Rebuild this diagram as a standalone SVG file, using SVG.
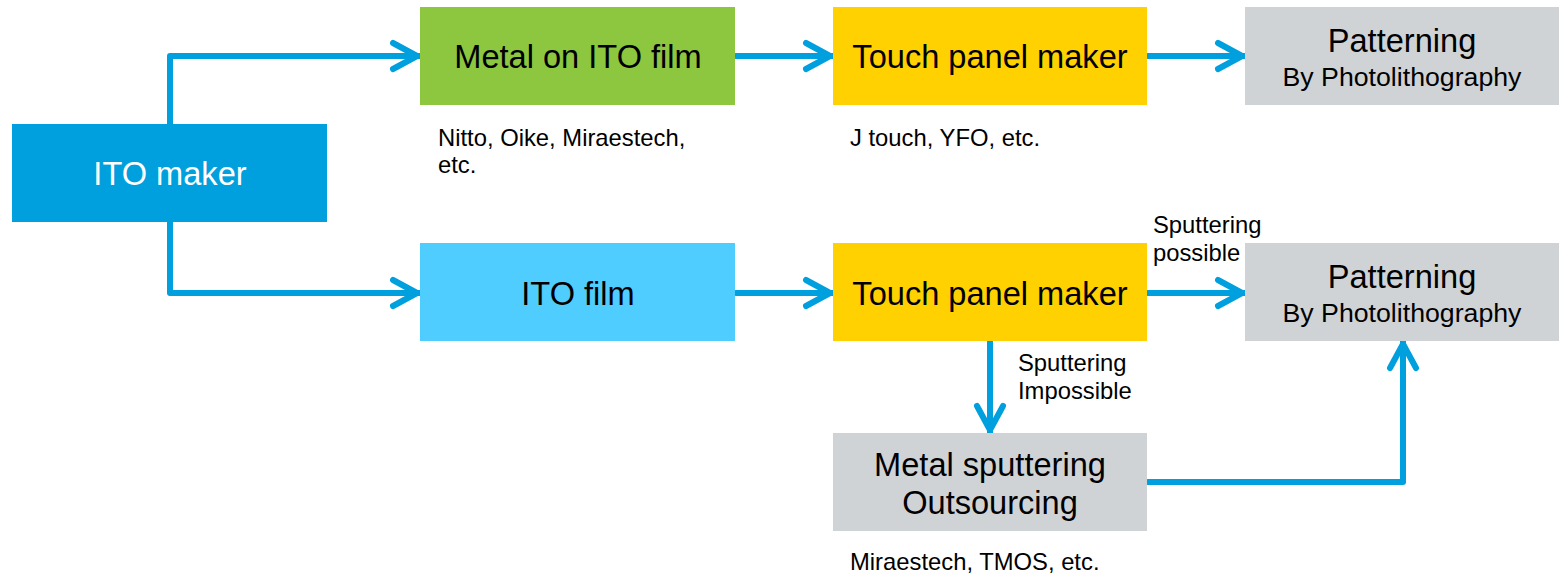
<svg xmlns="http://www.w3.org/2000/svg" width="1559" height="578" viewBox="0 0 1559 578">
<style>
text{font-family:"Liberation Sans",Arial,sans-serif;fill:#000}
.big{font-size:32.6px;text-anchor:middle}
.mid{font-size:26.7px;text-anchor:middle}
.sm{font-size:23.8px}
.wt{fill:#fff}
.conn{fill:none;stroke:#009FDD;stroke-width:6;stroke-linecap:round;stroke-linejoin:round}
</style>
<defs>
<marker id="arr" markerUnits="userSpaceOnUse" viewBox="-32 -18 34 36" markerWidth="34" markerHeight="36" refX="0" refY="0" orient="auto" overflow="visible">
<path d="M-27,-13 L-3,0 L-27,13" fill="none" stroke="#009FDD" stroke-width="6" stroke-linecap="round" stroke-linejoin="round"/>
</marker>
</defs>
<rect width="1559" height="578" fill="#fff"/>
<g id="connectors">
<path class="conn" d="M170,124 V56 H420" marker-end="url(#arr)"/>
<path class="conn" d="M170,222 V293 H420" marker-end="url(#arr)"/>
<path class="conn" d="M736,56 H833" marker-end="url(#arr)"/>
<path class="conn" d="M1148,56 H1245" marker-end="url(#arr)"/>
<path class="conn" d="M736,293 H833" marker-end="url(#arr)"/>
<path class="conn" d="M1148,293 H1245" marker-end="url(#arr)"/>
<path class="conn" d="M990,342 V433" marker-end="url(#arr)"/>
<path class="conn" d="M1148,482 H1403 V341" marker-end="url(#arr)"/>
</g>
<g id="ito-maker">
<rect x="12" y="124" width="315" height="98" fill="#009FDD"/>
<text class="big wt" x="170" y="185">ITO maker</text>
</g>
<g id="metal-on-ito">
<rect x="420" y="7" width="315" height="98" fill="#8DC63F"/>
<text class="big" x="578" y="68">Metal on ITO film</text>
<text class="sm" x="438" y="146">Nitto, Oike, Miraestech,</text>
<text class="sm" x="438" y="173">etc.</text>
</g>
<g id="touch-top">
<rect x="833" y="7" width="314" height="98" fill="#FFD100"/>
<text class="big" x="990" y="68">Touch panel maker</text>
<text class="sm" x="850" y="146">J touch, YFO, etc.</text>
</g>
<g id="patterning-top">
<rect x="1245" y="7" width="314" height="98" fill="#D0D3D6"/>
<text class="big" x="1402" y="52">Patterning</text>
<text class="mid" x="1402" y="86">By Photolithography</text>
</g>
<g id="ito-film">
<rect x="420" y="243" width="315" height="98" fill="#50CDFF"/>
<text class="big" x="578" y="305">ITO film</text>
</g>
<g id="touch-bottom">
<rect x="833" y="243" width="314" height="98" fill="#FFD100"/>
<text class="big" x="990" y="305">Touch panel maker</text>
</g>
<g id="patterning-bottom">
<rect x="1245" y="243" width="314" height="98" fill="#D0D3D6"/>
<text class="big" x="1402" y="288">Patterning</text>
<text class="mid" x="1402" y="322">By Photolithography</text>
</g>
<g id="metal-sputtering">
<rect x="833" y="433" width="314" height="98" fill="#D0D3D6"/>
<text class="big" x="990" y="476">Metal sputtering</text>
<text class="big" x="990" y="514">Outsourcing</text>
<text class="sm" x="850" y="570">Miraestech, TMOS, etc.</text>
</g>
<g id="labels">
<text class="sm" x="1153" y="233">Sputtering</text>
<text class="sm" x="1153" y="261">possible</text>
<text class="sm" x="1018" y="371">Sputtering</text>
<text class="sm" x="1018" y="399">Impossible</text>
</g>
</svg>
